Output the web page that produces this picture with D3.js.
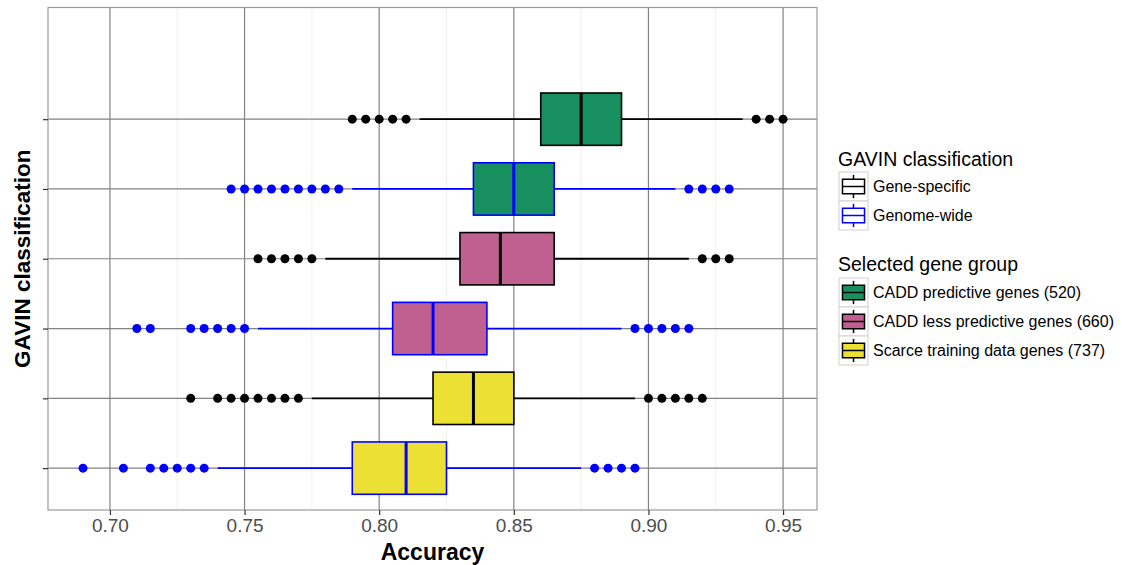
<!DOCTYPE html>
<html lang="en">
    <head>
        <meta charset="utf-8"/>
        <script src="https://d3js.org/d3.v7.min.js"></script>
        <style>
            body { margin: 0; background: #fff; }
            text { font-family: "Liberation Sans", Arial, sans-serif; }
        </style>
    </head>
    <body>
        <div id="chart"></div>
    </body>
    <script>
        // groups and classifications
        var groups = ["CADD predictive genes (520)", "CADD less predictive genes (660)", "Scarce training data genes (737)"];
        var classifications = ["Gene-specific", "Genome-wide"];
        var xTicks = [0.70, 0.75, 0.80, 0.85, 0.90, 0.95];
        var xMinor = [0.725, 0.775, 0.825, 0.875, 0.925];

        // one entry per row, top to bottom
        var rowGroup = [0, 0, 1, 1, 2, 2];
        var rowClass = [0, 1, 0, 1, 0, 1];
        var q1 = [0.860, 0.835, 0.830, 0.805, 0.820, 0.790];
        var median = [0.875, 0.850, 0.845, 0.820, 0.835, 0.810];
        var q3 = [0.890, 0.865, 0.865, 0.840, 0.850, 0.825];
        var whiskerLow = [0.815, 0.790, 0.780, 0.755, 0.775, 0.740];
        var whiskerHigh = [0.935, 0.910, 0.915, 0.890, 0.895, 0.875];
        var outliers = [
            [0.790, 0.795, 0.800, 0.805, 0.810, 0.940, 0.945, 0.950],
            [0.745, 0.750, 0.755, 0.760, 0.765, 0.770, 0.775, 0.780, 0.785, 0.915, 0.920, 0.925, 0.930],
            [0.755, 0.760, 0.765, 0.770, 0.775, 0.920, 0.925, 0.930],
            [0.710, 0.715, 0.730, 0.735, 0.740, 0.745, 0.750, 0.895, 0.900, 0.905, 0.910, 0.915],
            [0.730, 0.740, 0.745, 0.750, 0.755, 0.760, 0.765, 0.770, 0.900, 0.905, 0.910, 0.915, 0.920],
            [0.690, 0.705, 0.715, 0.720, 0.725, 0.730, 0.735, 0.880, 0.885, 0.890, 0.895]
        ];

        var groupColor = ["#178f5f", "#c06090", "#ece035"];
        var classColor = ["#000000", "#0000ff"];

        var W = 1122, H = 565;
        var panel = {left: 48, top: 7.5, right: 817, bottom: 510};

        var svg = d3.select("#chart")
            .append("svg")
                .attr("width", W)
                .attr("height", H)

        var x = d3.scaleLinear()
            .domain([0.677, 0.9626])
            .range([panel.left, panel.right])

        // row positions 6 (top) .. 1 (bottom)
        var y = d3.scaleLinear()
            .domain([0.4, 7.6])
            .range([panel.bottom, panel.top])
        var rowPos = function (i) { return 6 - i; };
        var boxHalf = 0.375;

        var grid = svg.append("g");
        grid.selectAll(".minor")
            .data(xMinor)
            .enter()
            .append("line")
            .attr("x1", function (d) { return x(d); })
            .attr("x2", function (d) { return x(d); })
            .attr("y1", panel.top)
            .attr("y2", panel.bottom)
            .attr("stroke", "#f0f0f0")
            .attr("stroke-width", 1)
        grid.selectAll(".major")
            .data(xTicks)
            .enter()
            .append("line")
            .attr("x1", function (d) { return x(d); })
            .attr("x2", function (d) { return x(d); })
            .attr("y1", panel.top)
            .attr("y2", panel.bottom)
            .attr("stroke", "#828282")
            .attr("stroke-width", 1.2)
        grid.selectAll(".hmajor")
            .data(q1)
            .enter()
            .append("line")
            .attr("x1", panel.left)
            .attr("x2", panel.right)
            .attr("y1", function (d, i) { return y(rowPos(i)); })
            .attr("y2", function (d, i) { return y(rowPos(i)); })
            .attr("stroke", "#828282")
            .attr("stroke-width", 1.2)

        // boxes
        var rows = svg.append("g")
            .selectAll("g")
            .data(q1)
            .enter()
            .append("g")

        rows.append("line")
            .attr("x1", function (d, i) { return x(whiskerLow[i]); })
            .attr("x2", function (d, i) { return x(q1[i]); })
            .attr("y1", function (d, i) { return y(rowPos(i)); })
            .attr("y2", function (d, i) { return y(rowPos(i)); })
            .attr("stroke", function (d, i) { return classColor[rowClass[i]]; })
            .attr("stroke-width", 1.8)
        rows.append("line")
            .attr("x1", function (d, i) { return x(q3[i]); })
            .attr("x2", function (d, i) { return x(whiskerHigh[i]); })
            .attr("y1", function (d, i) { return y(rowPos(i)); })
            .attr("y2", function (d, i) { return y(rowPos(i)); })
            .attr("stroke", function (d, i) { return classColor[rowClass[i]]; })
            .attr("stroke-width", 1.8)
        rows.append("rect")
            .attr("x", function (d, i) { return x(q1[i]); })
            .attr("width", function (d, i) { return x(q3[i]) - x(q1[i]); })
            .attr("y", function (d, i) { return y(rowPos(i) + boxHalf); })
            .attr("height", function (d, i) { return y(rowPos(i) - boxHalf) - y(rowPos(i) + boxHalf); })
            .attr("fill", function (d, i) { return groupColor[rowGroup[i]]; })
            .attr("stroke", function (d, i) { return classColor[rowClass[i]]; })
            .attr("stroke-width", 1.6)
        rows.append("line")
            .attr("x1", function (d, i) { return x(median[i]); })
            .attr("x2", function (d, i) { return x(median[i]); })
            .attr("y1", function (d, i) { return y(rowPos(i) + boxHalf); })
            .attr("y2", function (d, i) { return y(rowPos(i) - boxHalf); })
            .attr("stroke", function (d, i) { return classColor[rowClass[i]]; })
            .attr("stroke-width", 3)
        rows.each(function (d, i) {
            d3.select(this).selectAll("circle")
                .data(outliers[i])
                .enter()
                .append("circle")
                .attr("cx", function (v) { return x(v); })
                .attr("cy", y(rowPos(i)))
                .attr("r", 4.5)
                .attr("fill", classColor[rowClass[i]])
        });

        // panel border
        svg.append("rect")
            .attr("x", panel.left)
            .attr("y", panel.top)
            .attr("width", panel.right - panel.left)
            .attr("height", panel.bottom - panel.top)
            .attr("fill", "none")
            .attr("stroke", "#9a9a9a")
            .attr("stroke-width", 1.2)

        // axes
        var xAxis = svg.append("g")
            .attr("transform", "translate(0," + panel.bottom + ")")
            .call(d3.axisBottom(x).tickValues(xTicks).tickFormat(d3.format(".2f")).tickSize(5).tickPadding(4))
        xAxis.select(".domain").remove()
        xAxis.selectAll("line").attr("stroke", "#333").attr("stroke-width", 1.2)
        xAxis.selectAll("text")
            .attr("fill", "#4d4d4d")
            .style("font-size", "19px")

        var yAxis = svg.append("g")
            .attr("transform", "translate(" + panel.left + ",0)")
            .call(d3.axisLeft(y).tickValues([1, 2, 3, 4, 5, 6]).tickFormat("").tickSize(5))
        yAxis.select(".domain").remove()
        yAxis.selectAll("line").attr("stroke", "#333").attr("stroke-width", 1.2)

        svg.append("text")
            .attr("x", (panel.left + panel.right) / 2)
            .attr("y", 560)
            .attr("text-anchor", "middle")
            .style("font-size", "23px")
            .style("font-weight", "bold")
            .text("Accuracy")

        svg.append("text")
            .attr("transform", "translate(30," + ((panel.top + panel.bottom) / 2) + ") rotate(-90)")
            .attr("text-anchor", "middle")
            .style("font-size", "22.5px")
            .style("font-weight", "bold")
            .text("GAVIN classification")

        // legends
        var keySize = 29;
        function drawKey(g, kx, ky, fill, stroke) {
            g.append("rect")
                .attr("x", kx).attr("y", ky)
                .attr("width", keySize).attr("height", keySize)
                .attr("fill", "#fff")
                .attr("stroke", "#d0d0d0")
                .attr("stroke-width", 1)
            var cx = kx + keySize / 2;
            g.append("line")
                .attr("x1", cx).attr("x2", cx)
                .attr("y1", ky + keySize * 0.1).attr("y2", ky + keySize * 0.9)
                .attr("stroke", stroke).attr("stroke-width", 1.5)
            g.append("rect")
                .attr("x", kx + keySize * 0.12).attr("y", ky + keySize * 0.25)
                .attr("width", keySize * 0.76).attr("height", keySize * 0.5)
                .attr("fill", fill)
                .attr("stroke", stroke).attr("stroke-width", 1.5)
            g.append("line")
                .attr("x1", kx + keySize * 0.12).attr("x2", kx + keySize * 0.88)
                .attr("y1", ky + keySize / 2).attr("y2", ky + keySize / 2)
                .attr("stroke", stroke).attr("stroke-width", 1.5)
        }

        var legend = svg.append("g");
        legend.append("text")
            .attr("x", 838)
            .attr("y", 166)
            .style("font-size", "19.5px")
            .text("GAVIN classification")
        classifications.forEach(function (c, i) {
            var ky = 172 + i * keySize;
            drawKey(legend, 839, ky, "#fff", classColor[i]);
            legend.append("text")
                .attr("x", 873)
                .attr("y", ky + keySize / 2 + 5.5)
                .style("font-size", "16px")
                .text(c)
        });

        legend.append("text")
            .attr("x", 838)
            .attr("y", 271)
            .style("font-size", "19.5px")
            .text("Selected gene group")
        groups.forEach(function (gname, i) {
            var ky = 278 + i * keySize;
            drawKey(legend, 839, ky, groupColor[i], "#000");
            legend.append("text")
                .attr("x", 873)
                .attr("y", ky + keySize / 2 + 5.5)
                .style("font-size", "16px")
                .text(gname)
        });
    </script>
</html>
